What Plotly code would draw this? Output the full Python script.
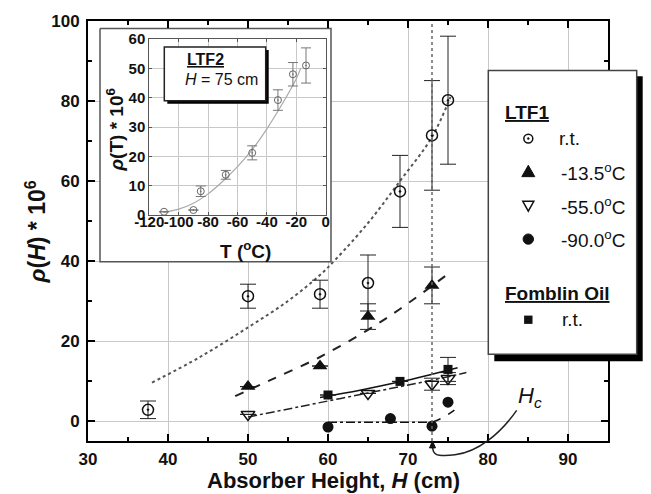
import plotly.graph_objects as go

# ---------------- data ----------------
# LTF1, room temperature
H_rt = [37.5, 50, 59, 65, 69, 73, 75]
p_rt = [2.8, 31.2, 31.7, 34.5, 57.4, 71.4, 80.2]
e_rt = [2.2, 3.0, 3.5, 7.0, 9.0, 13.7, 16.0]
# LTF1, -13.5 C
H_m135 = [50, 59, 65, 73]
p_m135 = [8.6, 13.75, 26.1, 33.9]
e_m135 = [None, None, 3.2, 4.6]
# LTF1, -55.0 C
H_m55 = [50, 65, 73, 75]
p_m55 = [1.65, 6.9, 9.2, 10.6]
e_m55 = [None, None, 1.5, 1.5]
# LTF1, -90.0 C
H_m90 = [60, 67.8, 73, 75]
p_m90 = [-1.5, 0.6, -1.3, 4.7]
# Fomblin oil, r.t.
H_fomb = [60, 69, 75]
p_fomb = [6.5, 9.9, 12.9]
e_fomb = [None, None, 3.0]

# fit curves
fit_rt_H = [38, 44, 50, 55, 59, 61, 65, 69, 73, 75.3]
fit_rt_p = [9.6, 16, 23.4, 30, 36.5, 40.5, 49.5, 60, 71, 81]
fit_m135_H = [48.4, 53, 59, 65, 69, 75.5]
fit_m135_p = [6.2, 10.4, 16, 22.8, 28, 37.5]
fit_m55_H = [50, 56.5, 65, 73, 77.3]
fit_m55_p = [1.0, 3.6, 7.0, 10.2, 12.1]
fit_m90_flat_H = [60, 73]
fit_m90_flat_p = [-0.3, -0.3]
fit_m90_rise_H = [73, 74.5, 75.8]
fit_m90_rise_p = [-0.3, 1.0, 2.7]
fit_fomb_H = [59, 64, 69, 73, 76.2]
fit_fomb_p = [5.9, 7.7, 9.8, 11.7, 13.3]

HC = 73  # critical height

# inset: LTF2, H = 75 cm
T_ltf2 = [-110, -90, -85, -68, -50, -32.5, -22.3, -13.4]
p_ltf2 = [1.1, 1.7, 8.1, 13.7, 21.2, 39.2, 48, 51]
e_ltf2 = [None, None, 1.8, 1.5, 2.4, 3.5, 4, 6]
fit_T = [-110, -100, -90, -80, -70, -60, -50, -40, -30, -20, -17]
fit_pT = [0.9, 2, 4, 7.2, 11.5, 16.5, 22.3, 29.4, 37.5, 46.5, 50]

x_ticks = [30, 40, 50, 60, 70, 80, 90]
y_ticks = [0, 20, 40, 60, 80, 100]
inset_x_ticks = [-120, -100, -80, -60, -40, -20, 0]
inset_x_labels = ["-120", "-100", "-80", "-60", "-40", "-20", "0"]
inset_y_ticks = [0, 10, 20, 30, 40, 50, 60]
xr = [30, 95]
yr = [-5, 100]

# ---------------- geometry helpers ----------------
W, HT = 651, 494
ML, MR, MT, MB = 88, 43, 16, 53
PW = W - ML - MR
PH = HT - MT - MB
FONT = "Liberation Sans, Arial, sans-serif"
INK = "#111111"


def fx(px):
    return (px - ML) / PW


def fy(py):
    return (HT - MB - py) / PH


def dx(px):
    return xr[0] + (px - ML) / PW * (xr[1] - xr[0])


def dy(py):
    return yr[0] + (HT - MB - py) / PH * (yr[1] - yr[0])


def ppath(pts, close=True):
    s = "M " + " L ".join(f"{fx(a):.5f},{fy(b):.5f}" for a, b in pts)
    return s + (" Z" if close else "")


fig = go.Figure()

# inset white panel (covers main grid)
bx0, by0, bx1, by1 = 100, 23.5, 331, 259.5
fig.add_trace(go.Scatter(
    x=[dx(bx0), dx(bx1), dx(bx1), dx(bx0), dx(bx0)],
    y=[dy(by0), dy(by0), dy(by1), dy(by1), dy(by0)],
    mode="lines", fill="toself", fillcolor="white",
    line=dict(color="#555555", width=1.5), hoverinfo="skip"))

err = lambda arr: dict(type="data", array=arr, visible=True, color="#222222", thickness=1, width=8)

# fit curves
fig.add_trace(go.Scatter(x=fit_rt_H, y=fit_rt_p, mode="lines", line_shape="spline",
                         line=dict(color="#555555", width=2, dash="dot")))
fig.add_trace(go.Scatter(x=fit_m135_H, y=fit_m135_p, mode="lines", line_shape="spline",
                         line=dict(color="#222222", width=2, dash="dash")))
fig.add_trace(go.Scatter(x=fit_m55_H, y=fit_m55_p, mode="lines", line_shape="spline",
                         line=dict(color="#222222", width=1.5, dash="dashdot")))
fig.add_trace(go.Scatter(x=fit_fomb_H, y=fit_fomb_p, mode="lines", line_shape="spline",
                         line=dict(color="#111111", width=1.5)))
fig.add_trace(go.Scatter(x=fit_m90_flat_H, y=fit_m90_flat_p, mode="lines",
                         line=dict(color="#111111", width=1.5, dash="dashdot")))
fig.add_trace(go.Scatter(x=fit_m90_rise_H, y=fit_m90_rise_p, mode="lines", line_shape="spline",
                         line=dict(color="#111111", width=1.5, dash="dash")))

# data points
fig.add_trace(go.Scatter(x=H_rt, y=p_rt, mode="markers", error_y=err(e_rt),
                         marker=dict(symbol="circle-open-dot", size=11, color=INK, line=dict(width=1.5, color=INK))))
fig.add_trace(go.Scatter(x=H_m135, y=p_m135, mode="markers", error_y=err(e_m135),
                         marker=dict(symbol="triangle-up", size=13, color=INK)))
fig.add_trace(go.Scatter(x=H_m55, y=p_m55, mode="markers", error_y=err(e_m55),
                         marker=dict(symbol="triangle-down-open", size=12, color=INK, line=dict(width=1.5, color=INK))))
fig.add_trace(go.Scatter(x=H_m90, y=p_m90, mode="markers",
                         marker=dict(symbol="circle", size=11, color=INK)))
fig.add_trace(go.Scatter(x=H_fomb, y=p_fomb, mode="markers", error_y=err(e_fomb),
                         marker=dict(symbol="square", size=9, color=INK)))

# inset traces
fig.add_trace(go.Scatter(x=fit_T, y=fit_pT, xaxis="x2", yaxis="y2", mode="lines", line_shape="spline",
                         line=dict(color="#aaaaaa", width=1.2)))
fig.add_trace(go.Scatter(x=T_ltf2, y=p_ltf2, xaxis="x2", yaxis="y2", mode="markers",
                         error_y=dict(type="data", array=e_ltf2, visible=True, color="#777777", thickness=1, width=5),
                         marker=dict(symbol="circle-open-dot", size=7, color="#666666", line=dict(width=1, color="#666666"))))

# ---------------- axes ----------------
main_ax = dict(showline=True, linewidth=2, linecolor="black", mirror="ticks",
               ticks="inside", ticklen=7, tickwidth=1.5, tickcolor="black",
               showgrid=True, gridcolor="#c8c8c8", gridwidth=1, zeroline=False,
               tickfont=dict(family=FONT, size=17, color=INK, weight="bold"))
fig.update_layout(
    xaxis=dict(main_ax, range=xr, tickvals=x_ticks,
               minor=dict(dtick=5, tick0=30, ticks="inside", ticklen=4, tickcolor="black", showgrid=False),
               ticklabelstandoff=2),
    yaxis=dict(main_ax, range=yr, tickvals=y_ticks,
               minor=dict(dtick=10, tick0=0, ticks="inside", ticklen=4, tickcolor="black", showgrid=False),
               ticklabelstandoff=3),
    xaxis2=dict(domain=[fx(149.3), fx(325.7)], anchor="y2", range=[-120, 0],
                tickvals=inset_x_ticks, ticktext=inset_x_labels,
                showline=True, linewidth=1, linecolor="#555555", mirror="ticks",
                ticks="inside", ticklen=3, tickcolor="#555555", tickangle=0,
                showgrid=True, gridcolor="#c8c8c8", zeroline=False, ticklabelstandoff=-7,
                tickfont=dict(family=FONT, size=15, color=INK, weight="bold")),
    yaxis2=dict(domain=[fy(212.3), fy(34.3)], anchor="x2", range=[0, 60], tickvals=inset_y_ticks,
                showline=True, linewidth=1, linecolor="#555555", mirror="ticks",
                ticks="inside", ticklen=3, tickcolor="#555555",
                showgrid=True, gridcolor="#c8c8c8", zeroline=False, ticklabelstandoff=0,
                tickfont=dict(family=FONT, size=15, color=INK, weight="bold")),
)

# ---------------- shapes ----------------
shapes = []
# main legend
lx0, ly0, lx1, ly1 = 488.3, 66, 636.7, 353.3
shapes.append(dict(type="rect", xref="paper", yref="paper", layer="above",
                   x0=fx(lx0 + 6), x1=fx(lx1 + 6), y0=fy(ly1 + 7), y1=fy(ly0 + 6),
                   fillcolor="black", line=dict(width=0)))
shapes.append(dict(type="rect", xref="paper", yref="paper", layer="above",
                   x0=fx(lx0), x1=fx(lx1), y0=fy(ly1), y1=fy(ly0),
                   fillcolor="white", line=dict(color="#444444", width=1.5)))
# legend markers
mx = 528.3
def circ(cx, cy, r, fill, lw=1.5):
    return dict(type="circle", xref="paper", yref="paper", layer="above",
                x0=fx(cx - r), x1=fx(cx + r), y0=fy(cy + r), y1=fy(cy - r),
                fillcolor=fill, line=dict(color=INK, width=lw))
shapes.append(circ(mx, 135, 4.5, "white"))
shapes.append(circ(mx, 135, 1.0, INK, 0.5))
shapes.append(dict(type="path", xref="paper", yref="paper", layer="above",
                   path=ppath([(mx - 6.5, 173.5), (mx + 6.5, 173.5), (mx, 162)]),
                   fillcolor=INK, line=dict(color=INK, width=1)))
shapes.append(dict(type="path", xref="paper", yref="paper", layer="above",
                   path=ppath([(mx - 5.5, 198.5), (mx + 5.5, 198.5), (mx, 208.5)]),
                   fillcolor="white", line=dict(color=INK, width=1.5)))
shapes.append(circ(mx, 236.7, 5.2, INK, 1))
shapes.append(dict(type="rect", xref="paper", yref="paper", layer="above",
                   x0=fx(mx - 4.2), x1=fx(mx + 4.2), y0=fy(318.3 + 4.2), y1=fy(318.3 - 4.2),
                   fillcolor=INK, line=dict(width=0)))
# inset legend box
ix0, iy0, ix1, iy1 = 164.3, 42.3, 265.7, 96.7
shapes.append(dict(type="rect", xref="paper", yref="paper", layer="above",
                   x0=fx(ix0 + 3), x1=fx(ix1 + 3), y0=fy(iy1 + 3), y1=fy(iy0 + 3),
                   fillcolor="black", line=dict(width=0)))
shapes.append(dict(type="rect", xref="paper", yref="paper", layer="above",
                   x0=fx(ix0), x1=fx(ix1), y0=fy(iy1), y1=fy(iy0),
                   fillcolor="white", line=dict(color="#222222", width=1.5)))
# Hc vertical dotted line
shapes.append(dict(type="line", xref="x", yref="y domain", x0=HC, x1=HC, y0=0, y1=1,
                   line=dict(color="#666666", width=1.5, dash="dot")))
# Hc curved pointer
p = lambda a, b: f"{fx(a):.5f},{fy(b):.5f}"
shapes.append(dict(type="path", xref="paper", yref="paper", layer="above",
                   path=f"M {p(516.7, 410)} C {p(500, 434)} {p(478, 452)} {p(455, 455)} "
                        f"S {p(433, 452)} {p(432.5, 446)}",
                   line=dict(color="#222222", width=1.5)))
shapes.append(dict(type="path", xref="paper", yref="paper", layer="above",
                   path=ppath([(429.5, 448), (435.5, 448), (432.5, 441)]),
                   fillcolor="#111111", line=dict(color="#111111", width=1)))
fig.update_layout(shapes=shapes)

# ---------------- annotations ----------------
def ann(text, px, py, size, xanchor="center", angle=0, yanchor="middle"):
    return dict(text=text, x=fx(px), y=fy(py), xref="paper", yref="paper", showarrow=False,
                xanchor=xanchor, yanchor=yanchor, textangle=angle,
                font=dict(family=FONT, size=size, color=INK))

anns = [
    ann("<b>Absorber Height, <i>H</i> (cm)</b>", 333, 481, 22),
    ann("<b><i>ρ</i>(<i>H</i>) * 10<sup>6</sup></b>", 36, 230, 23, angle=-90),
    ann("<b>T (<sup>o</sup>C)</b>", 245.7, 248, 19),
    ann("<b><i>ρ</i>(T) * 10<sup>6</sup></b>", 115, 126.7, 19, angle=-90),
    ann("<b><u>LTF2</u></b>", 185, 55, 16, xanchor="left"),
    ann("<i>H</i> = 75 cm", 183.3, 75, 16, xanchor="left"),
    ann("<b><u>LTF1</u></b>", 502.7, 108.3, 19, xanchor="left"),
    ann("r.t.", 557.3, 135, 19, xanchor="left"),
    ann("-13.5<sup>o</sup>C", 559.3, 168.3, 19, xanchor="left"),
    ann("-55.0<sup>o</sup>C", 559.3, 203.3, 19, xanchor="left"),
    ann("-90.0<sup>o</sup>C", 559.3, 236.7, 19, xanchor="left"),
    ann("<b><u>Fomblin Oil</u></b>", 503.3, 291.7, 19, xanchor="left"),
    ann("r.t.", 560, 318.3, 19, xanchor="left"),
    ann("<i>H<sub>c</sub></i>", 530, 396, 22),
]

fig.update_layout(
    annotations=anns,
    width=W, height=HT,
    margin=dict(l=ML, r=MR, t=MT, b=MB, pad=0),
    paper_bgcolor="white", plot_bgcolor="white",
    showlegend=False,
    font=dict(family=FONT, color=INK),
)

fig.write_html("out.html")
